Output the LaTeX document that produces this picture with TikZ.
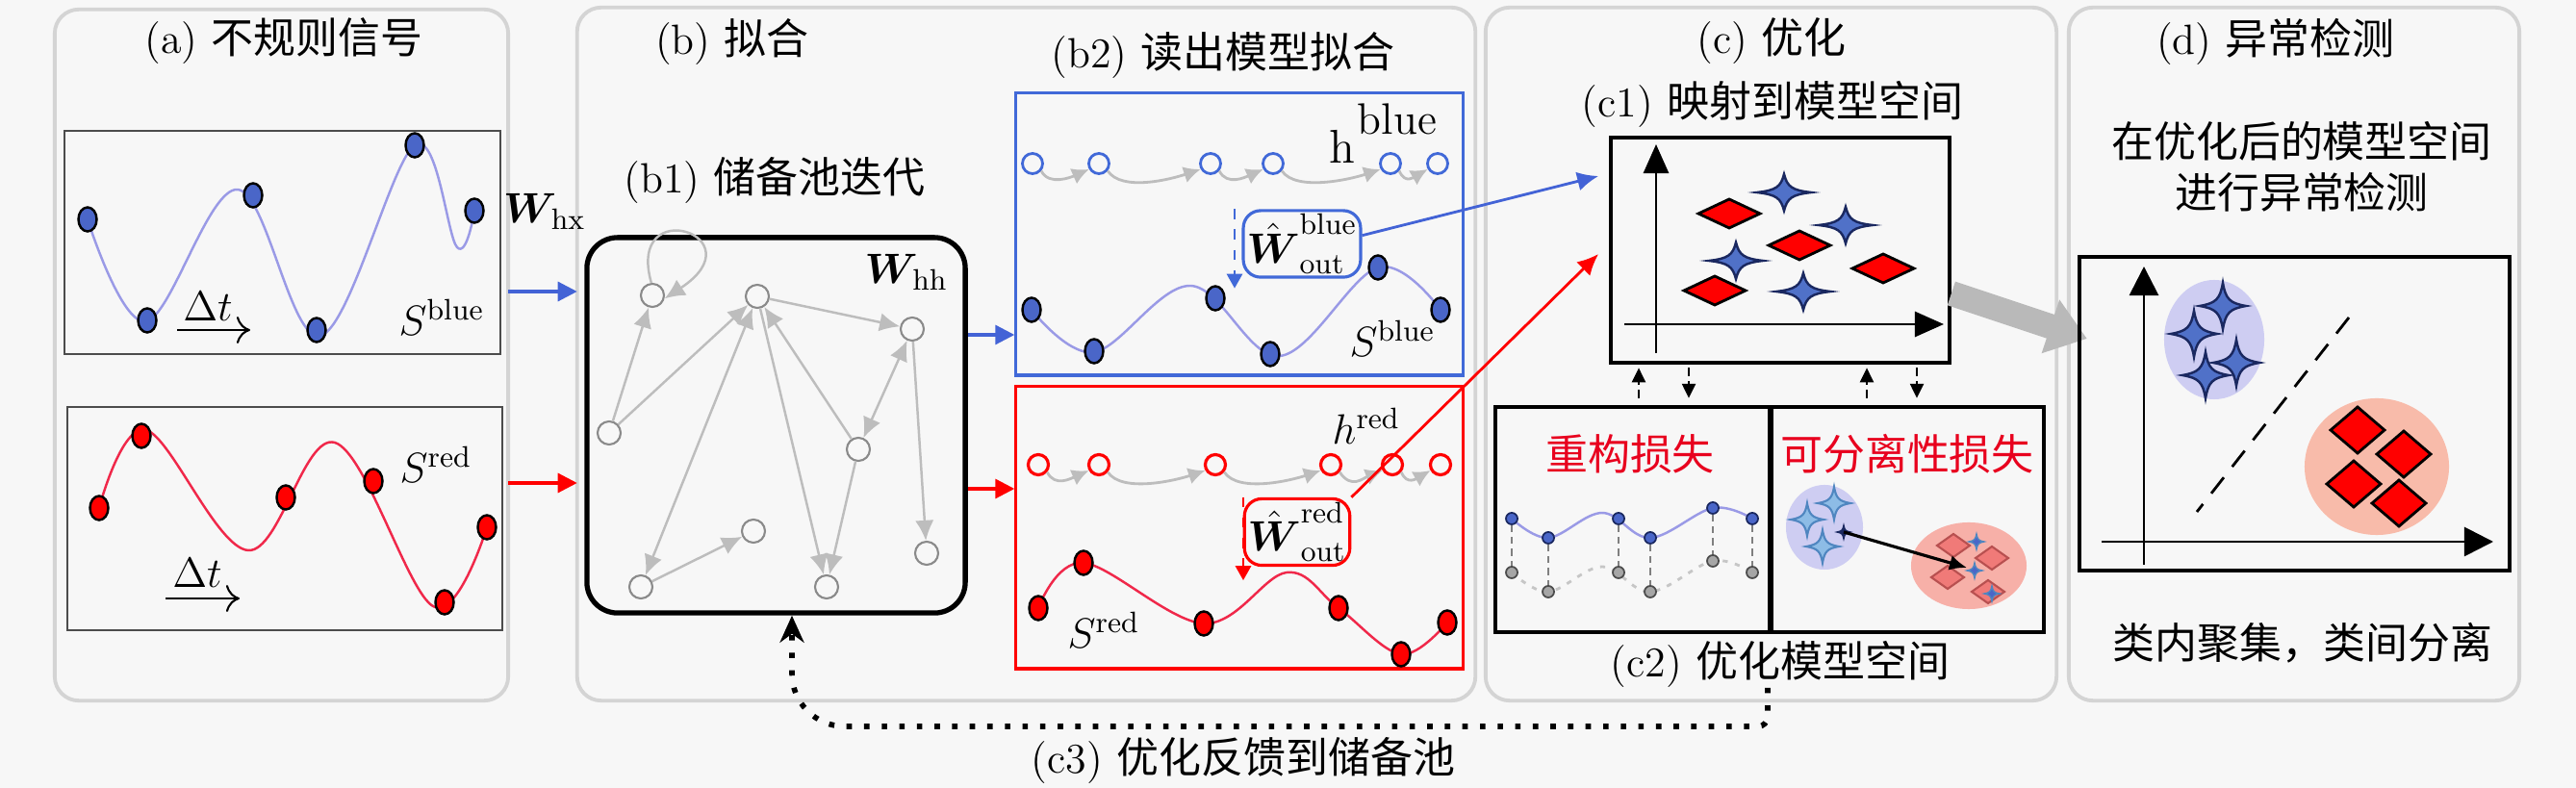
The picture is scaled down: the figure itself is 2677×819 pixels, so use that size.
\RequirePackage{fix-cm}
\documentclass[tikz,border=0pt]{standalone}
\usepackage{amsmath,amssymb}
\usepackage{fontspec}
\newfontfamily\cjk{Noto Sans CJK SC}
\usetikzlibrary{arrows.meta,shapes.geometric,calc}
\definecolor{bgc}{HTML}{F7F7F7}
\definecolor{panelc}{HTML}{D4D4D4}
\definecolor{dotblue}{HTML}{4A66C8}
\definecolor{curveb}{HTML}{9A9AE6}
\definecolor{curver}{HTML}{F0284A}
\definecolor{boxblue}{HTML}{4169D8}
\definecolor{arrblue}{HTML}{4363D6}
\definecolor{starfill}{HTML}{5071C8}
\definecolor{starline}{HTML}{1A2860}
\definecolor{lav}{HTML}{CECDF2}
\definecolor{salmon}{HTML}{F8BBAA}
\definecolor{ltblue}{HTML}{8DBCE6}
\definecolor{ltblueline}{HTML}{4F86C0}
\definecolor{pinkd}{HTML}{F07A78}
\definecolor{pinkdl}{HTML}{B85050}
\definecolor{pinkc}{HTML}{F7B0A8}
\definecolor{redtxt}{HTML}{E8001E}
\definecolor{edgec}{HTML}{BDBDBD}
\definecolor{rnodec}{HTML}{8A8A8A}
\tikzset{
  panel/.style={draw=panelc, line width=1.1pt, rounded corners=0.25cm, fill=bgc, inner sep=0pt, outer sep=0pt},
  sigbox/.style={draw=black!70, line width=0.6pt, fill=bgc, inner sep=0pt},
  dotb/.style={ellipse, draw=black, line width=0.7pt, fill=dotblue, minimum width=0.19cm, minimum height=0.25cm, inner sep=0pt},
  dotr/.style={ellipse, draw=black, line width=0.7pt, fill=red, minimum width=0.19cm, minimum height=0.25cm, inner sep=0pt},
  bcurve/.style={draw=curveb, line width=0.7pt},
  rcurve/.style={draw=curver, line width=0.7pt},
  rnode/.style={circle, draw=rnodec, line width=0.6pt, minimum size=0.24cm, inner sep=0pt, fill=bgc},
  redge/.style={draw=edgec, line width=0.7pt, -{Latex[length=6pt,width=5.5pt]}},
  redge2/.style={draw=edgec, line width=0.7pt, {Latex[length=6pt,width=5.5pt]}-{Latex[length=6pt,width=5.5pt]}},
  hb/.style={circle, draw=boxblue, line width=0.8pt, minimum size=0.21cm, inner sep=0pt, fill=bgc},
  hr/.style={circle, draw=red, line width=0.9pt, minimum size=0.21cm, inner sep=0pt, fill=bgc},
  harr/.style={draw=edgec, line width=0.8pt, -{Latex[length=5pt,width=5pt]}},
  barrow/.style={draw=arrblue, line width=0.9pt, -{Triangle[length=0.2cm,width=0.2cm]}},
  rarrow/.style={draw=red, line width=0.9pt, -{Triangle[length=0.2cm,width=0.2cm]}},
  dtarr/.style={line width=0.6pt, -{To[length=4pt,width=8pt]}},
  txt/.style={inner sep=0pt},
  wbox/.style={rounded corners=0.18cm, line width=0.9pt, fill=bgc, minimum width=1.08cm, minimum height=0.67cm, inner sep=1pt},
  dasharr/.style={dashed, dash pattern=on 2.5pt off 1.5pt, line width=0.7pt, -{Triangle[length=0.15cm,width=0.14cm]}},
  star4/.pic={\path[pic actions] (-1,0) .. controls (-0.3,-0.12) and (-0.12,-0.3) .. (0,-1) .. controls (0.12,-0.3) and (0.3,-0.12) .. (1,0) .. controls (0.3,0.12) and (0.12,0.3) .. (0,1) .. controls (-0.12,0.3) and (-0.3,0.12) .. (-1,0) -- cycle;},
  diam/.pic={\path[pic actions] (-1,0) -- (0,-1) -- (1,0) -- (0,1) -- cycle;},
  bstar/.style={draw=starline, fill=starfill, line width=0.7pt},
  rdiam/.style={draw=black, fill=red, line width=0.8pt},
}
\begin{document}
\begin{tikzpicture}[x=0.01cm,y=-0.01cm, every node/.append style={font=\fontsize{12.5}{15}\selectfont}]
\useasboundingbox (0,0) rectangle (2677,819);
\fill[bgc] (0,0) rectangle (2677,819);

% ---------------- panels
\node[panel, minimum width=4.71cm, minimum height=7.18cm] (pa) at (292.5,369) {};
\node[panel, minimum width=9.33cm, minimum height=7.2cm] (pb) at (1066.5,368) {};
\node[panel, minimum width=5.93cm, minimum height=7.2cm] (pc) at (1840.5,368) {};
\node[panel, minimum width=4.68cm, minimum height=7.2cm] (pd) at (2384,368) {};

% titles
\node[txt] (ta) at (295,43) {(a) {\cjk 不规则信号}};
\node[txt] (tb) at (761,43) {(b) {\cjk 拟合}};
\node[txt] (tb1) at (805,187) {(b1) {\cjk 储备池迭代}};
\node[txt] (tb2) at (1271,57) {(b2) {\cjk 读出模型拟合}};
\node[txt] (tc) at (1841,43) {(c) {\cjk 优化}};
\node[txt] (tc1) at (1842,108) {(c1) {\cjk 映射到模型空间}};
\node[txt] (tc2) at (1850,690) {(c2) {\cjk 优化模型空间}};
\node[txt] (tc3) at (1292,790) {(c3) {\cjk 优化反馈到储备池}};
\node[txt] (td) at (2365,43) {(d) {\cjk 异常检测}};
\node[txt, align=center] (td1) at (2392,173) {{\cjk 在优化后的模型空间}\\{\cjk 进行异常检测}};
\node[txt] (td2) at (2393,668) {{\cjk 类内聚集，类间分离}};

% ---------------- (a) signals
\node[sigbox, minimum width=4.53cm, minimum height=2.32cm] (sa) at (293.5,252) {};
\node[sigbox, minimum width=4.52cm, minimum height=2.32cm] (sr) at (296,539) {};
\draw[bcurve] plot[smooth, tension=0.6] coordinates {(91,228) (152,334) (247,197) (333,349) (431,151) (475,257) (493,219)};
\foreach \p [count=\i] in {(91,228),(153,333),(263,203),(329,343),(431,151),(493,219)}
  \node[dotb] (ab\i) at \p {};
\draw[rcurve] plot[smooth, tension=0.6] coordinates {(103,528) (152,447) (258,572) (348,460) (450,630) (506,548)};
\foreach \p [count=\i] in {(103,528),(147,453),(297,517),(388,500),(462,626),(506,548)}
  \node[dotr] (ar\i) at \p {};
\node[txt] (dta) at (216,318) {$\Delta t$};
\draw[dtarr] ([shift={(-32,25)}]dta.center) -- ++(76,0);
\node[txt] (dtb) at (205,595) {$\Delta t$};
\draw[dtarr] ([shift={(-33,27)}]dtb.center) -- ++(77,0);
\node[txt] (sbla) at (459,330) {$S^{\mathrm{blue}}$};
\node[txt] (sreda) at (453,483) {$S^{\mathrm{red}}$};

% input arrows
\node[txt] (whx) at (566,220) {$\boldsymbol{W}_{\!\mathrm{hx}}$};
\draw[barrow] (pa.east |- 0,303) -- (pb.west |- 0,303);
\draw[rarrow] (pa.east |- 0,502) -- (pb.west |- 0,502);

% ---------------- (b1) reservoir
\node[draw=black, line width=1.5pt, rounded corners=0.32cm, minimum width=3.93cm, minimum height=3.9cm, inner sep=0pt] (res) at (806.5,442) {};
\node[txt] (whh) at (942,283) {$\boldsymbol{W}_{\!\mathrm{hh}}$};
\node[rnode] (n1) at (678,307) {};
\node[rnode] (n2) at (787,308) {};
\node[rnode] (n3) at (948,342) {};
\node[rnode] (n4) at (633,450) {};
\node[rnode] (n5) at (892,467) {};
\node[rnode] (n6) at (783,552) {};
\node[rnode] (n7) at (666,610) {};
\node[rnode] (n8) at (859,610) {};
\node[rnode] (n9) at (963,575) {};
\draw[redge] (n4) -- (n1);
\draw[redge] (n4) -- (n2);
\draw[redge2] (n2) -- (n7);
\draw[redge] (n2) -- (n3);
\draw[redge] (n2) -- (n8);
\draw[redge] (n5) -- (n2);
\draw[redge2] (n3) -- (n5);
\draw[redge] (n3) -- (n9);
\draw[redge] (n5) -- (n8);
\draw[redge] (n7) -- (n6);
\draw[redge] (n1.95) .. controls (650,200) and (790,245) .. (n1.-15);

% ---------------- (b2) readout
\node[draw=boxblue, line width=0.9pt, minimum width=4.64cm, minimum height=2.93cm, inner sep=0pt] (bb) at (1288,243.5) {};
\node[draw=red, line width=0.9pt, minimum width=4.64cm, minimum height=2.93cm, inner sep=0pt] (br) at (1288,548.5) {};
\draw[barrow] (res.east |- 0,348) -- (bb.west |- 0,348);
\draw[rarrow] (res.east |- 0,508) -- (br.west |- 0,508);

\node[txt, font=\fontsize{14}{16}\selectfont] (hbl) at (1395,152) {h};
\node[txt, font=\fontsize{13}{16}\selectfont] (hblue) at (1452,124) {blue};
\foreach \x [count=\i] in {1073,1142,1258,1323,1445,1494}
  \node[hb] (hb\i) at (\x,170) {};
\draw[harr] (hb1.-40) .. controls +(8,16) and +(-18,8) .. (hb2.-150);
\draw[harr] (hb2.-40) .. controls +(15,22) and +(-30,10) .. (hb3.-150);
\draw[harr] (hb3.-40) .. controls +(8,16) and +(-18,8) .. (hb4.-150);
\draw[harr] (hb4.-40) .. controls +(15,22) and +(-30,10) .. (hb5.-150);
\draw[harr] (hb5.-40) .. controls +(6,14) and +(-14,8) .. (hb6.-150);

\draw[bcurve] plot[smooth, tension=0.6] coordinates {(1072,322) (1137,366) (1237,297) (1330,370) (1432,278) (1497,322)};
\foreach \p [count=\i] in {(1072,322),(1137,365),(1263,310),(1320,368),(1432,278),(1497,322)}
  \node[dotb] (bd\i) at \p {};
\node[txt] (sblb) at (1447,352) {$S^{\mathrm{blue}}$};
\node[wbox, draw=boxblue] (wb) at (1353,253.5) {$\hat{\boldsymbol{W}}^{\mathrm{blue}}_{\mathrm{out}}$};
\draw[dashed, draw=boxblue, line width=0.8pt, -{Triangle[length=0.15cm,width=0.16cm]}] (wb.north -| 1283,0) -- ($(wb.south -| 1283,0)+(0,10)$);

\node[txt] (hrl) at (1420,443) {$h^{\mathrm{red}}$};
\foreach \x [count=\i] in {1079,1142,1263,1383,1447,1497}
  \node[hr] (hr\i) at (\x,483) {};
\draw[harr] (hr1.-40) .. controls +(8,16) and +(-18,8) .. (hr2.-150);
\draw[harr] (hr2.-40) .. controls +(15,22) and +(-30,10) .. (hr3.-150);
\draw[harr] (hr3.-40) .. controls +(15,22) and +(-30,10) .. (hr4.-150);
\draw[harr] (hr4.-40) .. controls +(12,18) and +(-20,8) .. (hr5.-150);
\draw[harr] (hr5.-40) .. controls +(6,14) and +(-14,8) .. (hr6.-150);

\draw[rcurve] plot[smooth, tension=0.6] coordinates {(1079,632) (1126,585) (1251,648) (1337,595) (1391,632) (1456,680) (1504,647)};
\foreach \p [count=\i] in {(1079,632),(1126,585),(1251,648),(1391,632),(1456,680),(1504,647)}
  \node[dotr] (rd\i) at \p {};
\node[txt] (sredb) at (1147,655) {$S^{\mathrm{red}}$};
\node[wbox, draw=red] (wr) at (1348,553) {$\hat{\boldsymbol{W}}^{\mathrm{red}}_{\mathrm{out}}$};
\draw[dashed, draw=red, line width=0.8pt, -{Triangle[length=0.15cm,width=0.16cm]}] (wr.north -| 1292,0) -- ($(wr.south -| 1292,0)+(0,14)$);

% ---------------- (c1)
\node[draw=black, line width=1pt, minimum width=3.52cm, minimum height=2.34cm, inner sep=0pt] (c1) at (1850,260) {};
\coordinate (c1b) at ($(c1.west)+(-11,-77)$);
\coordinate (c1r) at ($(c1.west)+(-11,4)$);
\draw[draw=arrblue, line width=0.8pt, -{Latex[length=0.22cm,width=0.2cm]}] (wb.8) -- (c1b);
\draw[draw=red, line width=0.8pt, -{Latex[length=0.22cm,width=0.2cm]}] (wr.north east) -- (c1r);
\coordinate (ax0) at (1721,367);
\draw[line width=0.8pt, -{Triangle[length=0.3cm,width=0.26cm]}] (ax0) -- (1721,150);
\draw[line width=0.8pt, -{Triangle[length=0.3cm,width=0.26cm]}] (1688,337) -- (2020,337);
\foreach \p in {(1797,222),(1870,255),(1957,279),(1782,302)}
  \pic[rdiam, xscale=32, yscale=15] at \p {diam};
\foreach \p in {(1854,200),(1918,234),(1804,271),(1874,303)}
  \pic[bstar, xscale=28, yscale=19] at \p {star4};

% ---------------- (c2)
\node[draw=black, line width=1.2pt, minimum width=2.85cm, minimum height=2.34cm, inner sep=0pt] (c2L) at (1696.5,540) {};
\node[draw=black, line width=1.2pt, minimum width=2.83cm, minimum height=2.34cm, inner sep=0pt] (c2R) at (1982.5,540) {};
\node[txt, text=redtxt] (recl) at (1694,472) {{\cjk 重构损失}};
\node[txt, text=redtxt] (sepl) at (1982,472) {{\cjk 可分离性损失}};
\draw[dasharr, shorten <=2pt, shorten >=1pt] (c2L.north -| 1703,0) -- (c1.south -| 1703,0);
\draw[dasharr, shorten <=1pt, shorten >=2pt] (c1.south -| 1755,0) -- (c2L.north -| 1755,0);
\draw[dasharr, shorten <=2pt, shorten >=1pt] (c2R.north -| 1940,0) -- (c1.south -| 1940,0);
\draw[dasharr, shorten <=1pt, shorten >=2pt] (c1.south -| 1992,0) -- (c2R.north -| 1992,0);

% reconstruction
\draw[draw=gray!45, line width=0.8pt, dash pattern=on 1.5pt off 2.2pt] plot[smooth, tension=0.6] coordinates {(1571,595) (1609,615) (1665,589) (1715,615) (1780,583) (1821,595)};
\draw[bcurve] plot[smooth, tension=0.6] coordinates {(1571,539) (1609,559) (1665,533) (1715,559) (1780,528) (1821,539)};
\foreach \x/\yb/\yg [count=\i] in {1571/539/595,1609/559/615,1682/539/595,1715/559/615,1780/528/583,1821/539/595}{
  \node[circle, draw=black!70, fill=gray!70, line width=0.5pt, minimum size=0.12cm, inner sep=0pt] (rg\i) at (\x,\yg) {};
  \node[circle, draw=starline, fill=dotblue, line width=0.5pt, minimum size=0.12cm, inner sep=0pt] (rb\i) at (\x,\yb) {};
  \draw[draw=gray, line width=0.7pt, dash pattern=on 2pt off 1.5pt] (rb\i) -- (rg\i);
}

% separability
\fill[lav] (1896,548) ellipse [x radius=0.4cm, y radius=0.44cm];
\fill[pinkc] (2046,588) ellipse [x radius=0.6cm, y radius=0.45cm];
\foreach \p in {(1906,523),(1878,540),(1894,568)}
  \pic[draw=ltblueline, fill=ltblue, line width=0.6pt, scale=17] at \p {star4};
\foreach \p in {(2030,567),(2070,580),(2024,600),(2066,615)}
  \pic[draw=pinkdl, fill=pinkd, line width=0.6pt, xscale=17, yscale=12] at \p {diam};
\foreach \p in {(2054,563),(2052,593),(2070,617)}
  \pic[draw=ltblueline, fill=dotblue, line width=0.4pt, scale=8] at \p {star4};
\coordinate (sepA) at (1916,553);
\coordinate (sepB) at (2044,590);
\pic[draw=starline, fill=starline, scale=7] at (sepA) {star4};
\draw[line width=0.9pt, -{Latex[length=0.18cm,width=0.16cm]}] (sepA) -- (sepB);

% feedback
\draw[line width=1.6pt, dash pattern=on 1.6pt off 3.6pt, -{Stealth[length=0.28cm,width=0.25cm]}]
  (tc2.south -| 1837,0) [rounded corners=0.1cm] |- (1400,755) [rounded corners=0.55cm] -| (res.south -| 823,0);

% big gray arrow
\draw[draw=gray!55, line width=0.26cm, -{Triangle[length=0.4cm,width=0.56cm]}] ($(c1.east)+(0,45)$) -- ($(pd.west)+(19,-16)$);

% ---------------- (d)
\node[draw=black, line width=1pt, minimum width=4.47cm, minimum height=3.26cm, inner sep=0pt] (dbox) at (2384.5,430) {};
\fill[lav] (2301,353) ellipse [x radius=0.52cm, y radius=0.62cm];
\fill[salmon] (2470,485) ellipse [x radius=0.75cm, y radius=0.71cm];
\draw[line width=0.8pt, -{Triangle[length=0.3cm,width=0.3cm]}] (2228,587) -- (2228,277);
\draw[line width=0.8pt, -{Triangle[length=0.3cm,width=0.3cm]}] (2184,563) -- (2591,563);
\draw[line width=0.8pt, dash pattern=on 6pt off 4pt] (2441,330) -- (2283,532);
\foreach \p in {(2310,318),(2280,347),(2324,377),(2292,390)}
  \pic[bstar, scale=24] at \p {star4};
\foreach \p in {(2450,447),(2498,472),(2446,503),(2493,523)}
  \pic[rdiam, xscale=28, yscale=24] at \p {diam};
\end{tikzpicture}
\end{document}
